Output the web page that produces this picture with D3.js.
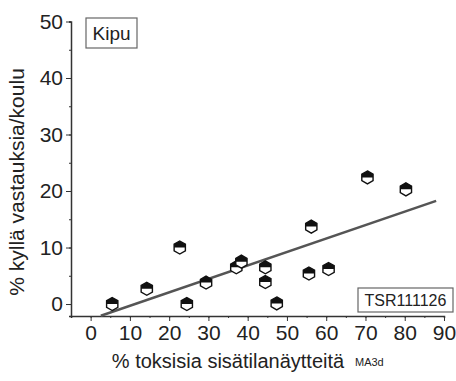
<html>
<head>
  <meta charset="utf-8">
  <script src="https://d3js.org/d3.v7.min.js"></script>
  <style>
    body { margin: 0; background: #fff; }
    text { font-family: "Liberation Sans", Arial, sans-serif; fill: #222; }
  </style>
</head>
<body>
  <svg id="chart" width="456" height="381"></svg>
  <script>
    // values
    var xVals = [5.5, 14.3, 22.7, 24.5, 29.4, 37.1, 38.4, 44.5, 44.5, 47.4, 55.6, 56.2, 60.6, 70.5, 80.3];
    var yVals = [0.0, 2.7, 10.0, 0.0, 3.8, 6.5, 7.5, 6.5, 3.9, 0.1, 5.4, 13.7, 6.2, 22.4, 20.3];
    var xTicks = [0, 10, 20, 30, 40, 50, 60, 70, 80, 90];
    var yTicks = [0, 10, 20, 30, 40, 50];
    var fitX = [2.6, 88];
    var fitSlope = 0.238, fitIntercept = -2.7;

    var svg = d3.select("#chart");

    var x = d3.scaleLinear().domain([-5, 90]).range([71, 444]);
    var y = d3.scaleLinear().domain([-2.12, 50]).range([316, 21.5]);

    // axes
    var xAxis = svg.append("g").attr("transform", "translate(0,316)");
    xAxis.call(d3.axisBottom(x).tickValues(d3.range(-5, 91, 5)).tickSize(2).tickFormat(""));
    var xMajor = svg.append("g").attr("transform", "translate(0,316)")
      .call(d3.axisBottom(x).tickValues(xTicks).tickSize(5).tickPadding(4));
    xMajor.select(".domain").remove();
    xMajor.selectAll("text").attr("font-size", 21).attr("fill", "#222")
      .style("font-family", "'Liberation Sans', Arial, sans-serif");

    var yAxis = svg.append("g").attr("transform", "translate(71,0)");
    yAxis.call(d3.axisLeft(y).tickValues(d3.range(0, 51, 5)).tickSize(2).tickFormat(""));
    var yMajor = svg.append("g").attr("transform", "translate(71,0)")
      .call(d3.axisLeft(y).tickValues(yTicks).tickSize(5).tickPadding(3));
    yMajor.select(".domain").remove();
    yMajor.selectAll("text").attr("font-size", 21).attr("fill", "#222")
      .style("font-family", "'Liberation Sans', Arial, sans-serif");
    svg.selectAll(".domain").attr("stroke", "#333").attr("stroke-width", 1.5);
    svg.selectAll(".tick line").attr("stroke", "#333");

    // regression line
    svg.append("line")
      .attr("x1", x(fitX[0])).attr("y1", y(fitIntercept + fitSlope * fitX[0]))
      .attr("x2", x(fitX[1])).attr("y2", y(fitIntercept + fitSlope * fitX[1]))
      .attr("stroke", "#555").attr("stroke-width", 2.5);

    // markers: hexagon, top half black
    var r = 6.5, c = r * Math.cos(Math.PI / 6);
    var hexPath = "M0," + (-r) + "L" + c + "," + (-r / 2) + "L" + c + "," + (r / 2) + "L0," + r +
      "L" + (-c) + "," + (r / 2) + "L" + (-c) + "," + (-r / 2) + "Z";
    var halfPath = "M0," + (-r) + "L" + c + "," + (-r / 2) + "L" + c + ",0L" + (-c) + ",0L" + (-c) + "," + (-r / 2) + "Z";
    var pts = svg.selectAll("g.pt").data(xVals.map((v, i) => [v, yVals[i]])).enter()
      .append("g").attr("class", "pt")
      .attr("transform", d => "translate(" + x(d[0]) + "," + y(d[1]) + ")");
    pts.append("path").attr("d", hexPath).attr("fill", "#fff").attr("stroke", "#111").attr("stroke-width", 1.4);
    pts.append("path").attr("d", halfPath).attr("fill", "#111");

    // labels
    svg.append("text").attr("transform", "translate(24,182) rotate(-90)")
      .attr("text-anchor", "middle").attr("font-size", 21).text("% kyllä vastauksia/koulu");
    svg.append("text").attr("x", 228).attr("y", 368).attr("text-anchor", "middle")
      .attr("font-size", 20).text("% toksisia sisätilanäytteitä");
    svg.append("text").attr("x", 355).attr("y", 366).attr("font-size", 11).text("MA3d");
    svg.append("text").attr("x", 24).attr("y", 395).attr("font-size", 20).text("30");

    // annotation boxes
    svg.append("rect").attr("x", 86).attr("y", 18).attr("width", 51).attr("height", 30)
      .attr("fill", "#fff").attr("stroke", "#666").attr("stroke-width", 1.2);
    svg.append("text").attr("x", 111.5).attr("y", 40).attr("text-anchor", "middle")
      .attr("font-size", 19).text("Kipu");
    svg.append("rect").attr("x", 358).attr("y", 288).attr("width", 95).attr("height", 24)
      .attr("fill", "#fff").attr("stroke", "#666").attr("stroke-width", 1.2);
    svg.append("text").attr("x", 405.5).attr("y", 306).attr("text-anchor", "middle")
      .attr("font-size", 16).text("TSR111126");
  </script>
</body>
</html>
